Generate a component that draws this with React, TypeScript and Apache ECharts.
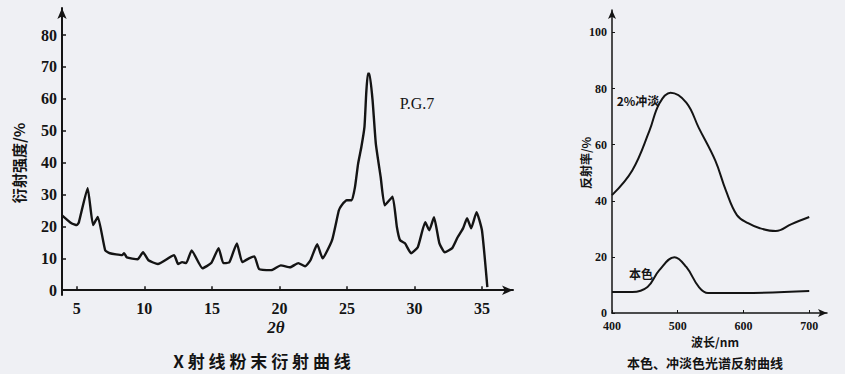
import React, { useEffect, useRef } from "react";
import * as echarts from "echarts";

// ---- Left chart: X-ray powder diffraction (PG 7) ----
const xrdTwoTheta = [
  3.9, 4.6, 5.0, 5.15, 5.8, 6.2, 6.55, 7.1, 7.45, 8.35, 8.5, 8.7, 9.5, 9.9, 10.3, 11.0, 12.2, 12.5,
  12.8, 13.1, 13.5, 14.3, 14.95, 15.5, 15.85, 16.3, 16.85, 17.25, 17.75, 18.15, 18.5, 19.4, 20.1,
  20.8, 21.4, 21.9, 22.3, 22.8, 23.2, 23.9, 24.4, 24.6, 25.0, 25.36, 25.6, 25.83, 26.07, 26.3,
  26.43, 26.55, 26.67, 26.9, 27.14, 27.5, 27.8, 28.38, 28.7, 28.93, 29.3, 29.75, 30.25, 30.8, 31.1,
  31.45, 31.85, 32.25, 32.8, 33.2, 33.6, 33.9, 34.2, 34.6, 35.0, 35.4,
];
const xrdIntensity = [
  23.5, 21, 20.4, 21.3, 32, 20.4, 23, 12.5, 11.6, 11, 11.6, 10.3, 9.7, 11.9, 9.4, 8.2, 11, 8.2,
  8.8, 8.5, 12.5, 6.9, 8.5, 13.2, 8.5, 8.8, 14.7, 8.8, 10, 10.6, 6.6, 6.3, 7.8,
  7.2, 8.5, 7.5, 9.4, 14.4, 10, 15.7, 25, 26.6, 28.2, 28.2, 32.4, 39.7, 44.9, 51.2,
  61.7, 67.9, 67.9, 59.6, 46, 35.5, 26.6, 29.3, 19.8, 15.7, 14.7, 11.6, 13.5, 21.3, 18.8,
  22.9, 14.7, 11.9, 13.2, 16.6, 19.4, 22.6, 19.4, 24.5, 18.8, 1,
];
const xrdXTicks = [5, 10, 15, 20, 25, 30, 35];
const xrdYTicks = [0, 10, 20, 30, 40, 50, 60, 70, 80];

// ---- Right chart: spectral reflectance ----
const tintWavelength = [400, 431, 457, 472, 489, 513, 532, 557, 573, 590, 607, 625, 649, 673, 700];
const tintReflectance = [42, 50.9, 65, 74.7, 78.5, 75, 66, 54.4, 43.8, 34.9, 32, 30.2, 29.2, 31.7, 34.2];
const massWavelength = [400, 431, 454, 472, 495, 513, 532, 546, 600, 700];
const massReflectance = [7.5, 7.5, 9.3, 15.3, 19.9, 16.4, 9.3, 7.1, 7.1, 7.8];
const specXTicks = [400, 500, 600, 700];
const specYTicks = [0, 20, 40, 60, 80, 100];

const zip = (xs: number[], ys: number[]) => xs.map((x, i) => [x, ys[i]]);

const INK = "#141414";
const SERIF = "Liberation Serif";
const CJK = "Noto Sans CJK SC";

export default function App() {
  const ref = useRef<HTMLDivElement>(null);
  useEffect(() => {
    if (!ref.current) return;
    const chart = echarts.init(ref.current, undefined, { renderer: "svg" });
    const axisLineL = { show: true, lineStyle: { color: INK, width: 2 }, symbol: ["none", "arrow"], symbolSize: [7, 11] };
    const axisLineR = { show: true, lineStyle: { color: INK, width: 1.5 }, symbol: ["none", "arrow"], symbolSize: [6, 9] };
    chart.setOption({
      animation: false,
      backgroundColor: "#eff0f4",
      grid: [
        { left: 62, right: 332, top: 8, bottom: 79 },
        { left: 612, right: 18, top: 10, bottom: 61 },
      ],
      xAxis: [
        {
          gridIndex: 0, type: "value", min: 3.9, max: 37.3,
          axisLine: axisLineL,
          axisTick: { show: true, inside: true, length: 4, customValues: xrdXTicks, lineStyle: { color: INK, width: 1.5 } },
          axisLabel: { customValues: xrdXTicks, color: INK, fontFamily: SERIF, fontWeight: "bold", fontSize: 16, margin: 5 },
          splitLine: { show: false },
        },
        {
          gridIndex: 1, type: "value", min: 400, max: 727,
          axisLine: axisLineR,
          axisTick: { show: true, inside: true, length: 3, customValues: specXTicks, lineStyle: { color: INK } },
          axisLabel: { customValues: specXTicks, color: INK, fontFamily: SERIF, fontWeight: "bold", fontSize: 12, margin: 7 },
          splitLine: { show: false },
        },
      ],
      yAxis: [
        {
          gridIndex: 0, type: "value", min: -1.5, max: 88.5,
          axisLine: axisLineL,
          axisTick: { show: true, inside: true, length: 4, customValues: xrdYTicks, lineStyle: { color: INK, width: 1.5 } },
          axisLabel: { customValues: xrdYTicks, color: INK, fontFamily: SERIF, fontWeight: "bold", fontSize: 16, margin: 5 },
          splitLine: { show: false },
        },
        {
          gridIndex: 1, type: "value", min: 0, max: 108,
          axisLine: axisLineR,
          axisTick: { show: true, inside: true, length: 3, customValues: specYTicks, lineStyle: { color: INK } },
          axisLabel: { customValues: specYTicks, color: INK, fontFamily: SERIF, fontWeight: "bold", fontSize: 12, margin: 5, lineHeight: 12, padding: [0, 0, 4, 0] },
          splitLine: { show: false },
        },
      ],
      series: [
        {
          type: "line", xAxisIndex: 0, yAxisIndex: 0, data: zip(xrdTwoTheta, xrdIntensity),
          showSymbol: false, smooth: 0.15, lineStyle: { color: INK, width: 2.4 },
        },
        {
          type: "line", xAxisIndex: 1, yAxisIndex: 1, data: zip(tintWavelength, tintReflectance),
          showSymbol: false, smooth: 0.4, lineStyle: { color: INK, width: 2 },
        },
        {
          type: "line", xAxisIndex: 1, yAxisIndex: 1, data: zip(massWavelength, massReflectance),
          showSymbol: false, smooth: 0.4, lineStyle: { color: INK, width: 2 },
        },
      ],
      graphic: [
        { type: "text", x: 18, y: 163, rotation: Math.PI / 2, style: { text: "衍射强度/%", fill: INK, font: `bold 15px "${CJK}"`, align: "center", verticalAlign: "middle" } },
        { type: "text", x: 276, y: 327, style: { text: "2θ", fill: INK, font: `italic bold 17px "${SERIF}"`, align: "center", verticalAlign: "middle" } },
        { type: "text", x: 262, y: 360, style: { text: "X 射 线 粉 末 衍 射 曲 线", fill: INK, font: `bold 17px "${CJK}"`, align: "center", verticalAlign: "middle" } },
        { type: "text", x: 417, y: 103, style: { text: "P.G.7", fill: INK, font: `16px "${SERIF}"`, align: "center", verticalAlign: "middle" } },
        { type: "text", x: 585, y: 163, rotation: Math.PI / 2, style: { text: "反射率/%", fill: INK, font: `bold 12px "${CJK}"`, align: "center", verticalAlign: "middle" } },
        { type: "text", x: 715, y: 341, style: { text: "波长/nm", fill: INK, font: `bold 12px "${CJK}"`, align: "center", verticalAlign: "middle" } },
        { type: "text", x: 705, y: 362, style: { text: "本色、冲淡色光谱反射曲线", fill: INK, font: `bold 13px "${CJK}"`, align: "center", verticalAlign: "middle" } },
        { type: "text", x: 638, y: 100, style: { text: "2%冲淡", fill: INK, font: `bold 12px "${CJK}"`, align: "center", verticalAlign: "middle" } },
        { type: "text", x: 641, y: 273, style: { text: "本色", fill: INK, font: `bold 12px "${CJK}"`, align: "center", verticalAlign: "middle" } },
      ],
    });
    return () => chart.dispose();
  }, []);
  return <div ref={ref} style={{ position: "fixed", left: 0, top: 0, width: 845, height: 374 }} />;
}
